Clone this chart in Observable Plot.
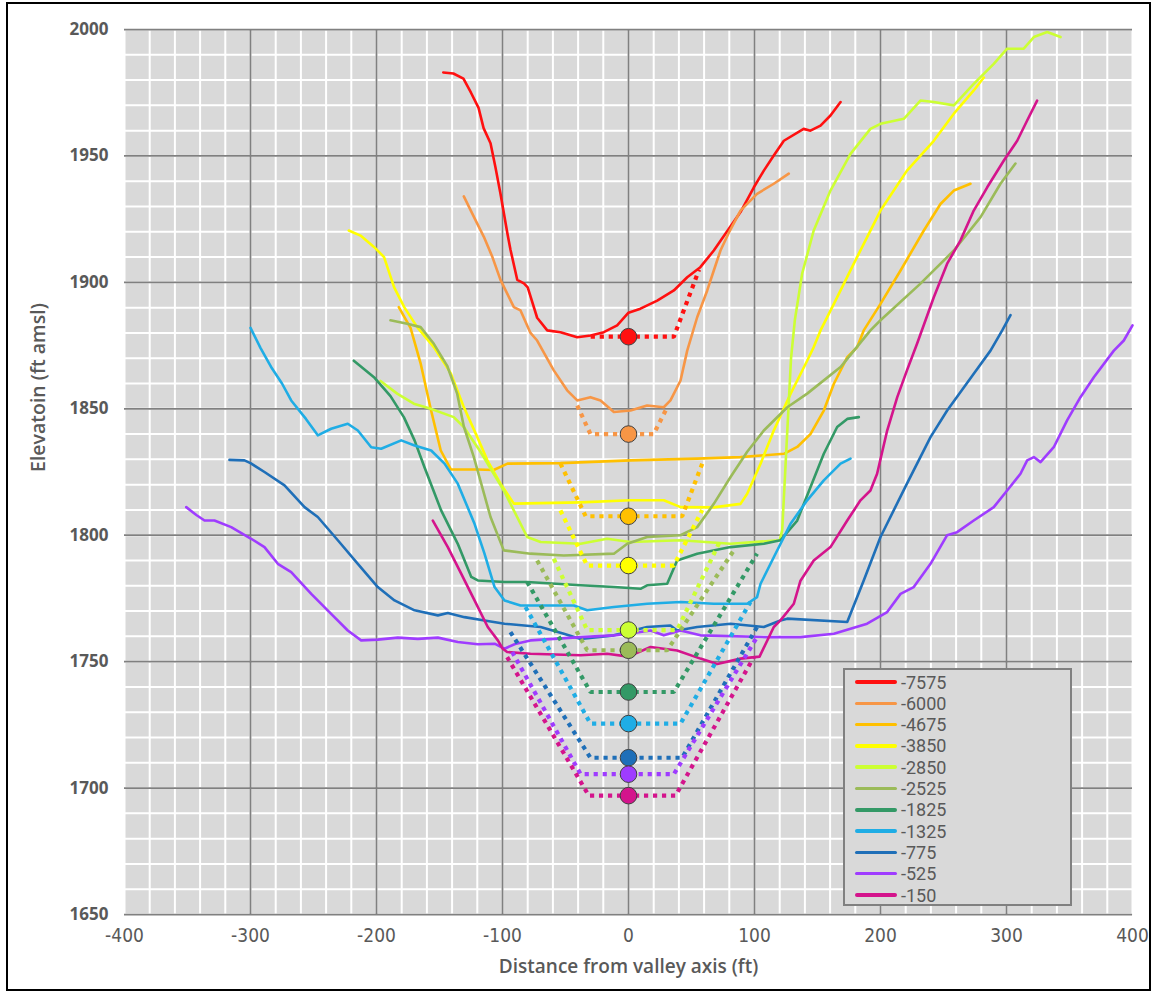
<!DOCTYPE html>
<html>
<head>
<meta charset="utf-8">
<script src="https://cdn.jsdelivr.net/npm/d3@7"></script>
<script src="https://cdn.jsdelivr.net/npm/@observablehq/plot@0.6"></script>
<style>
  html, body { margin: 0; padding: 0; background: #fff; }
  #wrap { position: relative; width: 1154px; height: 993px; overflow: hidden; }
  #border { position: absolute; left: 6px; top: 2px; width: 1141px; height: 985px; border: 2px solid #000; pointer-events: none; }
  #legend { position: absolute; left: 843px; top: 668px; width: 229px; height: 238px; box-sizing: border-box;
            background: #D9D9D9; border: 2px solid #808080; }
  .row { position: absolute; left: 10px; height: 20px; display: flex; align-items: center; }
  .sw { width: 42px; height: 3.5px; border-radius: 2px; margin-right: 4px; }
  .lab { font-family: Roboto, "Liberation Sans", sans-serif; font-size: 18px; color: #595959; }
</style>
</head>
<body>
<div id="wrap"><div id="chart"></div><div id="legend"></div><div id="border"></div></div>
<script>
// ---------------- data ----------------
const categories = ["-7575","-6000","-4675","-3850","-2850","-2525","-1825","-1325","-775","-525","-150"];
const colors = ["#FF1010","#F79646","#FFC000","#FFFF00","#CCFF33","#9BBB59","#339966","#1FADE5","#1F6FB8","#9F3CFF","#D4148C"];
const circleY = [1878.5, 1840, 1807.5, 1788, 1762.5, 1754.5, 1738, 1725.5, 1712, 1705.5, 1697];
const xTicks = [-400,-300,-200,-100,0,100,200,300,400];
const yTicks = [1650,1700,1750,1800,1850,1900,1950,2000];

const p7575 = [[-147,1983],[-139,1982.6],[-131,1980.6],[-125,1975],[-119,1969],[-115,1961],[-109.5,1955],[-105.6,1945.5],[-101.6,1935],[-96,1919],[-93.7,1913],[-88.3,1901],[-83,1899.6],[-80,1898],[-72.5,1886],[-64.5,1881],[-54,1880.3],[-40.7,1878.3],[-30,1879],[-19.6,1880.3],[-9,1883],[0,1888],[9.5,1889.6],[22.8,1892.8],[36,1896.8],[46.6,1902],[57,1906],[67.7,1912.6],[78,1920],[88.9,1927.8],[99.5,1937.6],[107.4,1944.2],[115.3,1950.2],[123.3,1956],[139,1960.7],[144.4,1960],[152.4,1962],[160.3,1966],[168.3,1971.3]];
const p6000 = [[-130.7,1934],[-122.8,1926],[-114.8,1918],[-108,1910],[-101.6,1901],[-91,1890.2],[-85.7,1888.9],[-77.8,1880],[-72.5,1877],[-59.3,1865.2],[-48.7,1857.3],[-40.7,1853.3],[-30.2,1854.6],[-22.2,1853.3],[-11.6,1848.7],[1.6,1849.3],[14.8,1851.3],[28,1850.6],[33.3,1853.3],[41.3,1861.2],[46.6,1873],[54.5,1886.2],[62.5,1896.8],[67.7,1904.7],[73,1912.6],[80,1920],[88.9,1928.4],[102,1935],[115.3,1939],[127.2,1943]];
const p4675 = [[-182.3,1890.2],[-173,1882],[-165,1868],[-157,1850],[-149,1833.5],[-141,1826],[-120,1826],[-107,1825.8],[-96,1828.3],[-54,1828.5],[1.6,1829.6],[54.5,1830.3],[88.9,1830.9],[123.3,1832.2],[133.9,1834.9],[144.4,1840],[155,1849.3],[163,1859.9],[173.6,1870.4],[181.5,1874.4],[186.7,1881],[200,1891.5],[215.9,1904.7],[234.4,1920.5],[247.6,1931],[258.2,1936.3],[271.4,1939]];
const p3850 = [[-222,1920.5],[-212.7,1918.5],[-202,1914],[-194,1910],[-186,1898],[-178,1890.2],[-167.7,1882.3],[-154.5,1874.4],[-141,1864],[-131,1851],[-120,1838.8],[-112,1829.6],[-101.6,1820.4],[-91,1812.5],[-38,1813],[1.6,1813.8],[28,1813.8],[41.3,1811.1],[67.7,1811],[88.9,1812.4],[94.2,1816.4],[104.8,1828.3],[115.3,1841.4],[128.6,1855.9],[141.8,1869],[147,1874.4],[152.4,1881],[163,1891.5],[178.8,1907.4],[200,1928.4],[221,1944.2],[242.3,1956],[258.2,1966.7],[274,1975.9],[282,1981]];
const p2850 = [[-196.8,1861],[-183.6,1856],[-170.4,1852],[-157,1850],[-138.7,1846.7],[-130.7,1842.8],[-117.5,1833],[-99,1817.7],[-80.4,1799.3],[-69.8,1797.3],[-38,1796.6],[-17,1798.6],[1.6,1797.3],[41.3,1798],[81,1796.6],[120,1798],[122,1802],[126,1841],[129,1870],[132,1885],[137.8,1903.4],[147,1920.5],[160.3,1936.3],[176.2,1950.8],[192,1960.7],[200,1962.7],[218.5,1964.7],[231.7,1971.9],[242.3,1971.3],[258.2,1970],[274,1978.5],[289.9,1986.4],[300.5,1992.4],[313.7,1992.4],[321.7,1997],[332.3,1999],[342.9,1997]];
const p2525 = [[-188.9,1885],[-175.6,1883.6],[-165,1882.3],[-154.5,1875.7],[-143.9,1867],[-136,1856],[-130.7,1843],[-122.8,1831],[-109.5,1807.2],[-99,1794],[-77.8,1792.7],[-51.3,1792],[-11.6,1792.7],[-1,1796.6],[14.8,1799.3],[41.3,1800],[54.5,1803.2],[67.7,1812.4],[81,1823],[94.2,1833],[107.4,1841.4],[126,1850.6],[141.8,1856],[168.3,1866.5],[192,1881],[200,1885],[231.7,1899.5],[258.2,1912.6],[279.4,1925.8],[295.2,1939],[307.1,1947]];
const p1825 = [[-218,1869],[-202,1862.5],[-188.9,1855],[-178.3,1846.7],[-169.8,1837.5],[-162,1827],[-148.7,1809.8],[-135.5,1796.6],[-124.8,1783.5],[-119.6,1782.1],[-98.4,1781.5],[-80.4,1781.5],[-38,1780.2],[-11.6,1779.5],[9.5,1778.8],[14.8,1780.2],[30.7,1780.8],[38.6,1790],[54.5,1792.7],[81,1795.3],[107.4,1796.6],[120.6,1798],[133.9,1805.8],[144.4,1819],[155,1832.2],[165.6,1842.8],[173.6,1846],[182.8,1846.7]];
const p1325 = [[-300,1882],[-292,1874],[-283,1866],[-275,1860],[-267.7,1853.3],[-256,1846],[-246.6,1839.5],[-236,1842.1],[-222.8,1844.1],[-214.8,1841.4],[-204.2,1834.8],[-196.3,1834.2],[-180.4,1837.5],[-169.8,1835.5],[-156.6,1833.5],[-146,1828.3],[-135.5,1820.4],[-122.2,1804.5],[-114.3,1792.7],[-106.3,1779.5],[-98.4,1774.2],[-85.7,1772.2],[-43.4,1772.2],[-32.8,1770.3],[-11.6,1771.6],[14.8,1772.9],[41.3,1773.6],[67.7,1772.9],[94.2,1772.9],[102,1775.5],[104.8,1780.8],[115.3,1791.3],[128.6,1804.5],[141.8,1813.8],[155,1821.7],[168.3,1828.3],[176.2,1830.3]];
const p775 = [[-316.7,1829.8],[-304.8,1829.6],[-300,1828.5],[-288.9,1825],[-273,1819.7],[-257.1,1811.1],[-246.6,1807.2],[-230.7,1798],[-214.8,1788.7],[-199,1779.5],[-185.7,1774.2],[-169.8,1770.3],[-151.3,1768.3],[-143.4,1769.2],[-130.2,1767.6],[-114.3,1766.3],[-98.4,1765],[-69.8,1763.7],[-51.3,1761],[-38,1759],[-11.6,1760.4],[14.8,1763.7],[33.3,1764.3],[38.6,1762.3],[54.5,1763.7],[81,1765],[107.4,1763.7],[120.6,1766.3],[126,1767],[173.6,1765.7],[186.7,1782.1],[200,1799.3],[221,1820.4],[239.7,1838.8],[252.9,1849.3],[274,1863.9],[287.3,1873],[296.6,1881],[303.2,1887]];
const p525 = [[-351,1811.1],[-343,1808],[-336.5,1805.8],[-328.6,1805.8],[-315.3,1803.2],[-299.5,1798.6],[-288.9,1795.3],[-278.3,1788.7],[-267.7,1785.4],[-251.8,1776.8],[-236,1768.9],[-222.8,1762.3],[-212.2,1758.4],[-199,1758.7],[-183.1,1759.5],[-167.2,1759],[-151.3,1759.5],[-135.5,1757.8],[-119.6,1756.9],[-106.3,1757.1],[-98.4,1755.1],[-90,1757],[-77.8,1758.4],[-38,1759.7],[-11.6,1760.4],[0,1761],[17.5,1762.3],[28,1760.4],[41.3,1762.3],[57.1,1760.4],[110,1759.7],[136.5,1759.7],[163,1761],[189.4,1765],[205.3,1769.6],[215.9,1776.8],[226.4,1779.5],[239.7,1788.7],[252.9,1800],[260.8,1801.2],[274,1805.8],[289.9,1811.1],[300.5,1817.7],[311.1,1824.3],[316.4,1829.6],[321.7,1830.9],[327,1828.9],[337.5,1834.8],[348.1,1845.4],[358.7,1854.6],[369.3,1862.5],[385.2,1873],[393.1,1877],[400,1883]];
const p150 = [[-155.3,1805.8],[-143.4,1795.3],[-132.8,1784.8],[-122.2,1774.2],[-111.7,1763.7],[-103.7,1758.4],[-99.8,1755.1],[-96.3,1753.8],[-77.8,1753.1],[-38,1752.5],[-17,1753.1],[0,1752],[17.5,1755.8],[38.6,1754.4],[57.1,1751.2],[70.4,1749.1],[88.9,1751.2],[104,1752],[115.3,1763.7],[120.6,1766.3],[131.2,1772.9],[136.5,1782],[147,1790],[160.3,1795.3],[173.6,1805.8],[184.1,1813.8],[192,1817.7],[197.3,1824.3],[205.3,1841.4],[213.3,1854.6],[221,1865.2],[229,1875.7],[242.3,1894.1],[252.9,1907.4],[263.5,1916.6],[274,1928.4],[284.7,1937.6],[297.9,1948.2],[308.5,1956],[316.4,1964],[324.3,1971.9]];

// dotted channel outlines
const t7575 = [[-30,1878.5],[36,1878.5],[56,1905]];
const t6000 = [[-40.7,1851.3],[-30.2,1840],[20,1840],[30.7,1850.6]];
const t4675 = [[-54,1828.3],[-34,1807.5],[42.6,1807.5],[58.5,1828.3]];
const t3850 = [[-54,1809.8],[-32.8,1788],[36,1788],[58.5,1810]];
const t2850 = [[-59.3,1790.7],[-32.8,1762.5],[38.6,1762.5],[73,1798]];
const t2525 = [[-72.5,1790],[-32.8,1754.5],[30.7,1754.5],[83.6,1794]];
const t1825 = [[-80.4,1781.5],[-30.2,1738],[36,1738],[102,1792.7]];
const t1325 = [[-81.7,1771.6],[-30.2,1725.5],[41.3,1725.5],[96.8,1773.6]];
const t775 = [[-93.7,1761.7],[-30.2,1712],[42.6,1712],[102,1763.7]];
const t525 = [[-92.3,1753.8],[-38,1705.5],[36,1705.5],[102,1759.7]];
const t150 = [[-96.3,1751.8],[-31.5,1697],[37.3,1697],[99.5,1751.8]];

// ---------------- build ----------------
const profiles = [p7575,p6000,p4675,p3850,p2850,p2525,p1825,p1325,p775,p525,p150];
const trenches = [t7575,t6000,t4675,t3850,t2850,t2525,t1825,t1325,t775,t525,t150];
const toRows = arr => arr.flatMap((pts, i) => pts.map(([x, y]) => ({x, y, s: categories[i]})));
const profileRows = toRows(profiles);
const trenchRows = toRows(trenches);
const circleRows = categories.map((s, i) => ({s, y: circleY[i]}));

const minorX = d3.range(-400, 401, 20);
const minorY = d3.range(1650, 2001, 10);
const majorX = xTicks.filter(v => v > -400 && v < 400);
const majorY = yTicks;

const txt = "#595959";
const chart = Plot.plot({
  width: 1154, height: 993,
  marginLeft: 124, marginRight: 22, marginTop: 29, marginBottom: 79,
  style: {background: "transparent", overflow: "visible"},
  x: {domain: [-400, 400], axis: null},
  y: {domain: [1650, 2000], axis: null},
  color: {domain: categories, range: colors},
  marks: [
    Plot.frame({fill: "#D9D9D9", stroke: null}),
    Plot.ruleX(minorX, {stroke: "#FFFFFF", strokeWidth: 2}),
    Plot.ruleY(minorY, {stroke: "#FFFFFF", strokeWidth: 2}),
    Plot.ruleX(majorX, {stroke: "#808080", strokeWidth: 1.75}),
    Plot.ruleY(majorY, {stroke: "#808080", strokeWidth: 1.75}),
    Plot.text(xTicks, {x: d => d, frameAnchor: "bottom", dy: 27, text: d => String(d),
      fontFamily: "'Liberation Sans Narrow', 'DejaVu Sans Condensed', sans-serif", fontSize: 19, fill: txt}),
    Plot.text(yTicks, {y: d => d, frameAnchor: "left", dx: -16, textAnchor: "end", text: d => String(d),
      fontFamily: "'Open Sans', sans-serif", fontWeight: "bold", fontSize: 17, fill: txt}),
    Plot.text(["Distance from valley axis (ft)"], {frameAnchor: "bottom", dy: 58,
      fontFamily: "'Open Sans', sans-serif", fontWeight: 600, fontSize: 19, fill: txt}),
    Plot.text(["Elevatoin (ft amsl)"], {frameAnchor: "left", dx: -86, rotate: -90,
      fontFamily: "'Open Sans', sans-serif", fontWeight: 600, fontSize: 19.5, fill: txt}),
    Plot.line(profileRows, {x: "x", y: "y", z: "s", stroke: "s", strokeWidth: 2.6, curve: "linear"}),
    Plot.line(trenchRows, {x: "x", y: "y", z: "s", stroke: "s", strokeWidth: 4.2, strokeDasharray: "4.2,4.8",
      strokeLinecap: "butt", strokeLinejoin: "miter"}),
    Plot.dot(circleRows, {x: d => 0, y: "y", fill: "s", r: 8.3, stroke: "#404040", strokeWidth: 1})
  ]
});
document.getElementById("chart").appendChild(chart);

// legend
const legend = document.getElementById("legend");
categories.forEach((c, i) => {
  const row = document.createElement("div");
  row.className = "row";
  row.style.top = (2 + i * 21.3) + "px";
  const sw = document.createElement("div");
  sw.className = "sw";
  sw.style.background = colors[i];
  const lab = document.createElement("span");
  lab.className = "lab";
  lab.textContent = c;
  row.appendChild(sw);
  row.appendChild(lab);
  legend.appendChild(row);
});
</script>
</body>
</html>
